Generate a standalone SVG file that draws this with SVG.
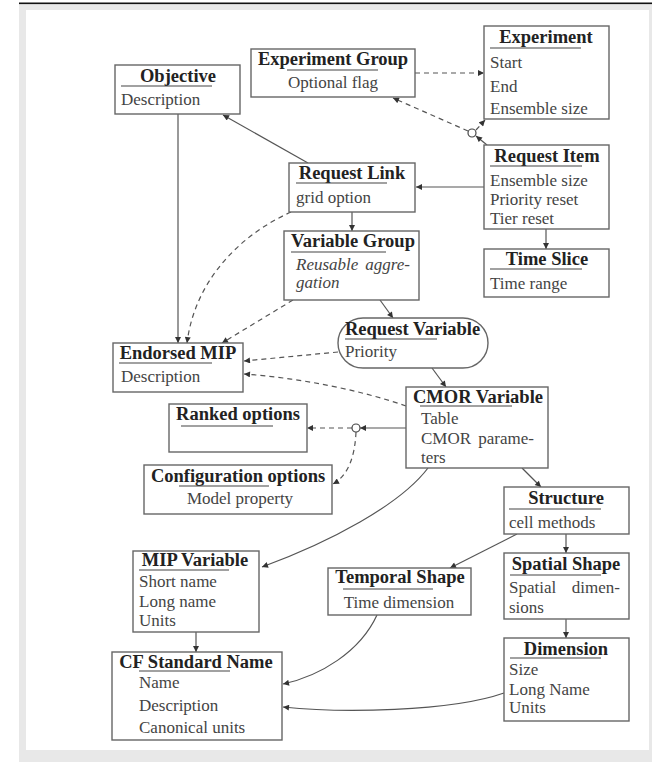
<svg xmlns="http://www.w3.org/2000/svg" width="652" height="762" viewBox="0 0 652 762">
<style>
.box{fill:#fff;stroke:#666;stroke-width:1.4}
.t{font-family:"Liberation Serif","Times New Roman",serif;font-weight:bold;font-size:18.5px;fill:#222}
.b{font-family:"Liberation Serif","Times New Roman",serif;font-size:17px;fill:#444}
.i{font-style:italic}
.c{text-anchor:middle}
.e{text-anchor:end}
.ul{stroke:#444;stroke-width:1.2}
.ln{fill:none;stroke:#555;stroke-width:1.2}
.d{stroke-dasharray:5,4}
.circ{fill:#fff;stroke:#444;stroke-width:1.2}
</style>
<defs>
<marker id="ah" viewBox="0 0 10 10" refX="10" refY="5" markerWidth="7" markerHeight="6" orient="auto" markerUnits="userSpaceOnUse"><path d="M0,0 L10,5 L0,10 z" fill="#333"/></marker>
</defs>
<rect x="0" y="0" width="652" height="762" fill="#fff"/>
<rect x="19" y="3" width="633" height="759" fill="#e8e8e8"/>
<rect x="19" y="2.5" width="633" height="1.6" fill="#111"/>
<rect x="26" y="10" width="623" height="740" fill="#fff"/>

<g id="connectors">
<line class="ln d" x1="415" y1="73" x2="484" y2="73" marker-end="url(#ah)"/>
<line class="ln" x1="487" y1="145" x2="476" y2="136" marker-end="url(#ah)"/>
<line class="ln d" x1="468" y1="131" x2="393" y2="98" marker-end="url(#ah)"/>
<line class="ln d" x1="476" y1="130" x2="485" y2="120" marker-end="url(#ah)"/>
<line class="ln" x1="484" y1="187" x2="416" y2="187" marker-end="url(#ah)"/>
<line class="ln" x1="546" y1="229" x2="546" y2="249" marker-end="url(#ah)"/>
<line class="ln" x1="308" y1="163" x2="223" y2="115" marker-end="url(#ah)"/>
<line class="ln" x1="352" y1="212" x2="352" y2="231" marker-end="url(#ah)"/>
<line class="ln" x1="178" y1="114" x2="178" y2="343" marker-end="url(#ah)"/>
<path class="ln d" d="M291,212 C240,235 195,280 187,343" marker-end="url(#ah)"/>
<line class="ln d" x1="293" y1="300" x2="222" y2="343" marker-end="url(#ah)"/>
<line class="ln" x1="380" y1="300" x2="393" y2="318" marker-end="url(#ah)"/>
<line class="ln d" x1="338" y1="352" x2="244" y2="361" marker-end="url(#ah)"/>
<path class="ln d" d="M406,406 C360,390 300,378 244,374" marker-end="url(#ah)"/>
<line class="ln" x1="432" y1="368" x2="446" y2="387" marker-end="url(#ah)"/>
<line class="ln" x1="406" y1="428" x2="360" y2="428" marker-end="url(#ah)"/>
<line class="ln d" x1="352" y1="428" x2="307" y2="428" marker-end="url(#ah)"/>
<path class="ln d" d="M356,432 C355,455 349,475 333,484" marker-end="url(#ah)"/>
<circle class="circ" cx="356" cy="428" r="4"/>
<circle class="circ" cx="472" cy="133" r="4"/>
<path class="ln" d="M428,468 C400,505 330,542 262,567" marker-end="url(#ah)"/>
<line class="ln" x1="522" y1="468" x2="541" y2="487" marker-end="url(#ah)"/>
<line class="ln" x1="517" y1="534" x2="450" y2="568" marker-end="url(#ah)"/>
<line class="ln" x1="566" y1="534" x2="566" y2="553" marker-end="url(#ah)"/>
<line class="ln" x1="566" y1="619" x2="566" y2="638" marker-end="url(#ah)"/>
<line class="ln" x1="196" y1="632" x2="196" y2="652" marker-end="url(#ah)"/>
<path class="ln" d="M377,615 C360,652 320,676 283,684" marker-end="url(#ah)"/>
<path class="ln" d="M504,693 C450,712 340,713 283,707" marker-end="url(#ah)"/>
</g>

<g id="objective">
<rect class="box" x="115" y="65" width="125" height="49"/>
<text class="t c" x="178" y="82">Objective</text>
<line class="ul" x1="121" y1="86" x2="212" y2="86"/>
<text class="b" x="121" y="105">Description</text>
</g>

<g id="experiment-group">
<rect class="box" x="251" y="49" width="164" height="48"/>
<text class="t c" x="333" y="65">Experiment Group</text>
<line class="ul" x1="287" y1="70" x2="378" y2="70"/>
<text class="b c" x="333" y="88">Optional flag</text>
</g>

<g id="experiment">
<rect class="box" x="484" y="26" width="125" height="93"/>
<text class="t c" x="546" y="43">Experiment</text>
<line class="ul" x1="490" y1="48" x2="581" y2="48"/>
<text class="b" x="490" y="68">Start</text>
<text class="b" x="490" y="92">End</text>
<text class="b" x="490" y="114">Ensemble size</text>
</g>

<g id="request-item">
<rect class="box" x="484" y="145" width="125" height="84"/>
<text class="t c" x="547" y="162">Request Item</text>
<line class="ul" x1="490" y1="166" x2="582" y2="166"/>
<text class="b" x="490" y="186">Ensemble size</text>
<text class="b" x="490" y="205">Priority reset</text>
<text class="b" x="490" y="224">Tier reset</text>
</g>

<g id="time-slice">
<rect class="box" x="484" y="249" width="125" height="48"/>
<text class="t c" x="547" y="265">Time Slice</text>
<line class="ul" x1="490" y1="269" x2="582" y2="269"/>
<text class="b" x="490" y="289">Time range</text>
</g>

<g id="request-link">
<rect class="box" x="289" y="163" width="126" height="49"/>
<text class="t c" x="352" y="179">Request Link</text>
<line class="ul" x1="296" y1="183" x2="387" y2="183"/>
<text class="b" x="296" y="203">grid option</text>
</g>

<g id="variable-group">
<rect class="box" x="284" y="231" width="135" height="69"/>
<text class="t c" x="353" y="247">Variable Group</text>
<line class="ul" x1="291" y1="252" x2="386" y2="252"/>
<text class="b i" x="296" y="270">Reusable</text>
<text class="b i e" x="410" y="270">aggre-</text>
<text class="b i" x="296" y="288">gation</text>
</g>

<g id="request-variable">
<rect class="box" x="338" y="318" width="150" height="50" rx="25" ry="25"/>
<text class="t" x="345" y="335">Request Variable</text>
<line class="ul" x1="345" y1="339" x2="437" y2="339"/>
<text class="b" x="345" y="357">Priority</text>
</g>

<g id="endorsed-mip">
<rect class="box" x="113" y="343" width="130" height="49"/>
<text class="t c" x="178" y="359">Endorsed MIP</text>
<line class="ul" x1="119" y1="363" x2="212" y2="363"/>
<text class="b" x="121" y="382">Description</text>
</g>

<g id="cmor-variable">
<rect class="box" x="406" y="387" width="142" height="81"/>
<text class="t c" x="478" y="403">CMOR Variable</text>
<line class="ul" x1="420" y1="406" x2="512" y2="406"/>
<text class="b" x="421" y="424">Table</text>
<text class="b" x="421" y="444">CMOR</text>
<text class="b e" x="534" y="444">parame-</text>
<text class="b" x="421" y="463">ters</text>
</g>

<g id="ranked-options">
<rect class="box" x="169" y="404" width="138" height="48"/>
<text class="t c" x="238" y="420">Ranked options</text>
<line class="ul" x1="181" y1="426" x2="273" y2="426"/>
</g>

<g id="configuration-options">
<rect class="box" x="144" y="465" width="188" height="49"/>
<text class="t c" x="238" y="482">Configuration options</text>
<line class="ul" x1="179" y1="486" x2="269" y2="486"/>
<text class="b c" x="240" y="504">Model property</text>
</g>

<g id="structure">
<rect class="box" x="504" y="487" width="125" height="47"/>
<text class="t c" x="566" y="504">Structure</text>
<line class="ul" x1="509" y1="509" x2="601" y2="509"/>
<text class="b" x="509" y="528">cell methods</text>
</g>

<g id="spatial-shape">
<rect class="box" x="504" y="553" width="125" height="66"/>
<text class="t c" x="566" y="570">Spatial Shape</text>
<line class="ul" x1="510" y1="575" x2="601" y2="575"/>
<text class="b" x="509" y="593">Spatial</text>
<text class="b e" x="620" y="593">dimen-</text>
<text class="b" x="509" y="613">sions</text>
</g>

<g id="dimension">
<rect class="box" x="504" y="638" width="125" height="83"/>
<text class="t c" x="566" y="655">Dimension</text>
<line class="ul" x1="510" y1="658" x2="601" y2="658"/>
<text class="b" x="509" y="675">Size</text>
<text class="b" x="509" y="695">Long Name</text>
<text class="b" x="509" y="713">Units</text>
</g>

<g id="temporal-shape">
<rect class="box" x="328" y="568" width="143" height="47"/>
<text class="t c" x="400" y="583">Temporal Shape</text>
<line class="ul" x1="343" y1="589" x2="433" y2="589"/>
<text class="b c" x="399" y="608">Time dimension</text>
</g>

<g id="mip-variable">
<rect class="box" x="133" y="551" width="126" height="81"/>
<text class="t c" x="195" y="566">MIP Variable</text>
<line class="ul" x1="139" y1="570" x2="229" y2="570"/>
<text class="b" x="139" y="587">Short name</text>
<text class="b" x="139" y="607">Long name</text>
<text class="b" x="139" y="626">Units</text>
</g>

<g id="cf-standard-name">
<rect class="box" x="112" y="652" width="170" height="88"/>
<text class="t c" x="196" y="668">CF Standard Name</text>
<line class="ul" x1="139" y1="671" x2="230" y2="671"/>
<text class="b" x="139" y="688">Name</text>
<text class="b" x="139" y="711">Description</text>
<text class="b" x="139" y="733">Canonical units</text>
</g>
</svg>
